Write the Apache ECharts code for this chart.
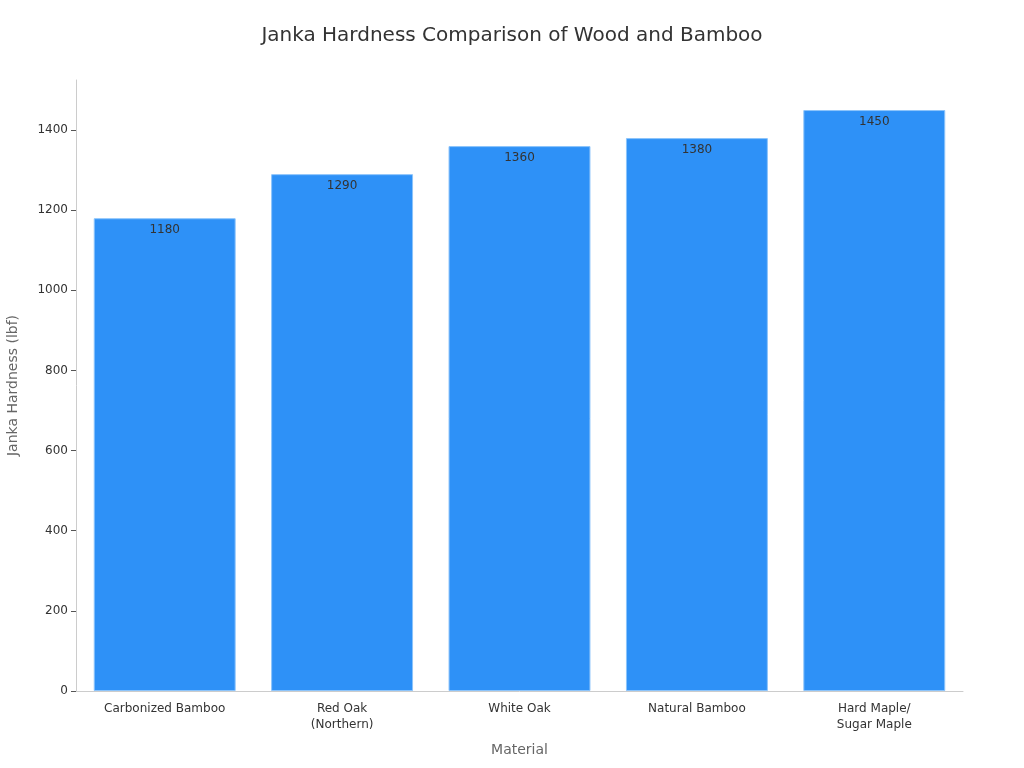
<!DOCTYPE html>
<html lang="en">
<head>
    <meta charset="UTF-8">
    <title>Janka Hardness</title>
    <script src="https://cdn.jsdelivr.net/npm/echarts@6/dist/echarts.min.js"></script>
</head>
<body>
<div id="chart"></div>
</body>
<style>
    * {
        padding: 0;
        margin: 0;
    }

    html, body {
        width: 100%;
        height: 100%;
        background-color: white;
    }

    #chart {
        width: 1024px;
        height: 768px;
    }
</style>
<script>

    const materials = ['Carbonized Bamboo', 'Red Oak\n(Northern)', 'White Oak', 'Natural Bamboo', 'Hard Maple/\nSugar Maple']
    const hardness = [1180, 1290, 1360, 1380, 1450]

    let chart = echarts.init(document.getElementById("chart"))

    let option = {
        backgroundColor: '#ffffff',
        textStyle: {fontFamily: 'DejaVu Sans'},
        title: {
            text: 'Janka Hardness Comparison of Wood and Bamboo',
            left: 'center',
            top: 21,
            textStyle: {fontSize: 20, fontWeight: 'normal', color: '#333333', fontFamily: 'DejaVu Sans'}
        },
        grid: {left: 76, right: 61, top: 80, bottom: 77, containLabel: false, outerBoundsMode: 'none'},
        xAxis: {
            type: 'category',
            data: materials,
            name: 'Material',
            nameLocation: 'middle',
            nameGap: 52,
            nameTextStyle: {fontSize: 14, color: '#666666'},
            axisLine: {lineStyle: {color: '#cccccc'}},
            axisTick: {alignWithLabel: true, lineStyle: {color: '#555555'}},
            axisLabel: {fontSize: 12, color: '#333333', margin: 10, lineHeight: 16}
        },
        yAxis: {
            type: 'value',
            min: 0,
            max: 1525,
            interval: 200,
            name: 'Janka Hardness (lbf)',
            nameLocation: 'middle',
            nameGap: 56,
            nameTextStyle: {fontSize: 14, color: '#666666'},
            axisLine: {show: true, lineStyle: {color: '#cccccc'}},
            axisTick: {show: true, lineStyle: {color: '#555555'}},
            axisLabel: {
                fontSize: 12, color: '#333333',
                showMaxLabel: false,
                formatter: (v) => String(v)
            },
            splitLine: {show: false}
        },
        series: [
            {
                type: 'bar',
                data: hardness,
                barCategoryGap: '20%',
                itemStyle: {color: '#2e91f7', borderColor: '#8cc4fb', borderWidth: 1},
                label: {
                    show: true,
                    position: 'insideTop',
                    distance: 6,
                    fontSize: 12,
                    color: '#333333'
                }
            }
        ]
    }

    chart.setOption(option)

</script>
</html>
